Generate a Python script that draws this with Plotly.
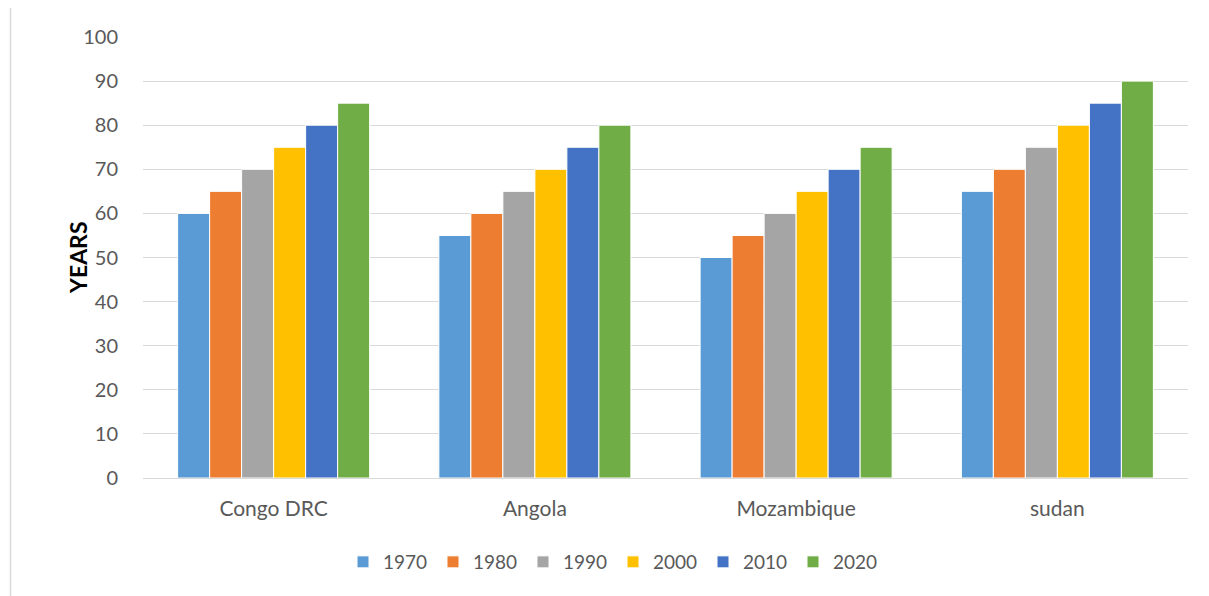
import plotly.graph_objects as go

countries = ["Congo DRC", "Angola", "Mozambique", "sudan"]
years = ["1970", "1980", "1990", "2000", "2010", "2020"]
v1970 = [60, 55, 50, 65]
v1980 = [65, 60, 55, 70]
v1990 = [70, 65, 60, 75]
v2000 = [75, 70, 65, 80]
v2010 = [80, 75, 70, 85]
v2020 = [85, 80, 75, 90]
series = [v1970, v1980, v1990, v2000, v2010, v2020]
colors = ["#5B9BD5", "#ED7D31", "#A5A5A5", "#FFC000", "#4472C4", "#70AD47"]
yticks = [0, 10, 20, 30, 40, 50, 60, 70, 80, 90, 100]

FONT = "Lato"
TXT = "#595959"

fig = go.Figure()
for name, vals, col in zip(years, series, colors):
    fig.add_trace(go.Bar(x=countries, y=vals, name=name,
                         marker=dict(color=col, line=dict(color="white", width=1))))

OFF = 8  # page body margin
W, H = 1209 - OFF, 596 - OFF
# target screen coords of plot area
SL, SR, ST, SB = 143, 1188, 37, 478
L = SL - OFF
T = ST - OFF
R = W - (SR - OFF)
B = H - (SB - OFF)
pw = W - L - R
ph = H - T - B

def px(x):
    return (x - OFF - L) / pw

def py(y):
    return (H - B - (y - OFF)) / ph

fig.update_layout(
    width=W, height=H,
    margin=dict(l=L, r=R, t=T, b=B, pad=0),
    paper_bgcolor="white", plot_bgcolor="white",
    barmode="group", bargap=0.265, bargroupgap=0,
    font=dict(family=FONT, size=20, color=TXT),
    showlegend=True,
    legend=dict(orientation="h", x=px(343), xanchor="left", y=py(562), yanchor="middle",
                font=dict(family=FONT, size=19, color=TXT),
                entrywidth=45, entrywidthmode="pixels", itemwidth=30,
                bgcolor="rgba(0,0,0,0)", tracegroupgap=0),
    xaxis=dict(showgrid=False, showline=False, zeroline=False,
               ticks="outside", ticklen=12, tickcolor="rgba(0,0,0,0)",
               tickfont=dict(family=FONT, size=21, color=TXT)),
    yaxis=dict(range=[0, 100], tickvals=yticks, showgrid=True, gridcolor="#D9D9D9",
               gridwidth=1, zeroline=True, zerolinecolor="#D9D9D9", zerolinewidth=1,
               showline=False, ticks="outside", ticklen=20, tickcolor="rgba(0,0,0,0)",
               tickfont=dict(family=FONT, size=20, color=TXT)),
    annotations=[dict(text="<b>YEARS</b>", textangle=-90, xref="paper", yref="paper",
                      x=px(62), y=py(258), showarrow=False,
                      font=dict(family=FONT, size=23, color="#000000"))],
    shapes=[
        dict(type="line", xref="paper", yref="paper", x0=px(10.5), x1=px(1215),
             y0=py(7), y1=py(7), line=dict(color="#D9D9D9", width=1.5)),
        dict(type="line", xref="paper", yref="paper", x0=px(10.5), x1=px(10.5),
             y0=py(7), y1=py(600), line=dict(color="#D9D9D9", width=1.5)),
    ],
)

fig.write_html("out.html")
